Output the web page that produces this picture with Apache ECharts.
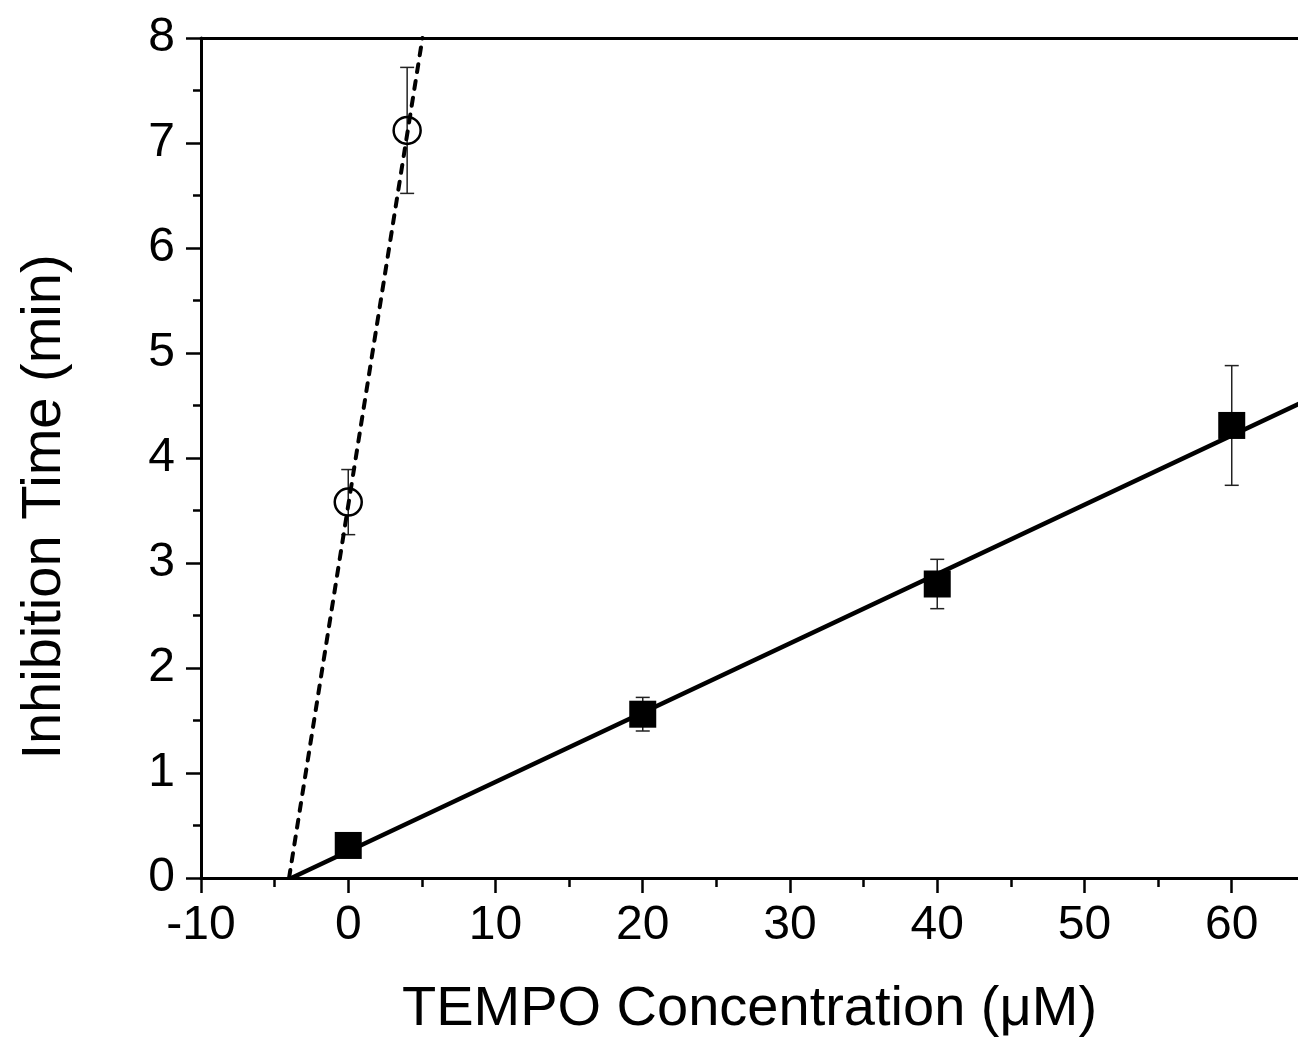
<!DOCTYPE html>
<html>
<head>
<meta charset="utf-8">
<script src="https://cdn.jsdelivr.net/npm/echarts@6/dist/echarts.min.js"></script>
<style>
html,body{margin:0;padding:0;background:#fff;}
#chart{width:1298px;height:1043px;}
</style>
</head>
<body>
<div id="chart"></div>
<script>
// ---- data ----
var xTitle = 'TEMPO Concentration (\u03bcM)';
var yTitle = 'Inhibition Time (min)';

var xMajorTicks = [-10, 0, 10, 20, 30, 40, 50, 60];
var xMinorTicks = [-5, 5, 15, 25, 35, 45, 55];

var squareX = [0, 20, 40, 60];
var squareY = [0.31, 1.56, 2.80, 4.31];
var squareErr = [0.0, 0.16, 0.235, 0.57];

var circleX = [0, 4];
var circleY = [3.58, 7.12];
var circleErr = [0.31, 0.60];

// fitted lines (endpoints in data units)
var solidFitX = [-3.86, 65];
var solidFitY = [0, 4.545];
var dashFitX = [-4.02, 5.04];
var dashFitY = [0, 8];

var X_MIN = -10, X_MAX = 64.5;
var FONT = '"Liberation Sans", Arial, sans-serif';

function pairs(xs, ys){ return xs.map(function(x,i){ return [x, ys[i]]; }); }
function errData(xs, ys, es){ return xs.map(function(x,i){ return [x, ys[i]-es[i], ys[i]+es[i]]; }); }

function errRender(params, api){
  var x = api.value(0);
  var lo = api.coord([x, api.value(1)]);
  var hi = api.coord([x, api.value(2)]);
  var cap = 7;
  var st = {stroke:'#222', lineWidth:1.5, fill:null};
  return {type:'group', children:[
    {type:'line', shape:{x1:hi[0], y1:hi[1], x2:lo[0], y2:lo[1]}, style:st},
    {type:'line', shape:{x1:hi[0]-cap, y1:hi[1], x2:hi[0]+cap, y2:hi[1]}, style:st},
    {type:'line', shape:{x1:lo[0]-cap, y1:lo[1], x2:lo[0]+cap, y2:lo[1]}, style:st}
  ]};
}

var chart = echarts.init(document.getElementById('chart'), null, {renderer:'canvas'});
var option = {
  animation:false,
  backgroundColor:'#fff',
  grid:{left:201, top:38, right:0, bottom:165, show:false},
  xAxis:[{
    type:'value', min:X_MIN, max:X_MAX, position:'bottom',
    axisLine:{show:true, onZero:false, lineStyle:{color:'#000', width:3}},
    axisTick:{show:true, inside:false, length:15, customValues:xMajorTicks, lineStyle:{color:'#000', width:2.5}},
    minorTick:{show:false},
    splitLine:{show:false},
    axisLabel:{color:'#000', fontFamily:FONT, fontSize:48, margin:24, customValues:xMajorTicks},
    name:xTitle, nameLocation:'middle', nameGap:104,
    nameTextStyle:{color:'#000', fontFamily:FONT, fontSize:56}
  },{
    type:'value', min:X_MIN, max:X_MAX, position:'bottom',
    axisLine:{show:false, onZero:false},
    axisTick:{show:true, inside:false, length:9, customValues:xMinorTicks, lineStyle:{color:'#000', width:2.5}},
    axisLabel:{show:false}, splitLine:{show:false}
  },{
    type:'value', min:X_MIN, max:X_MAX, position:'top',
    axisLine:{show:true, onZero:false, lineStyle:{color:'#000', width:3}},
    axisTick:{show:false}, axisLabel:{show:false}, splitLine:{show:false}
  }],
  yAxis:{
    type:'value', min:0, max:8, interval:1,
    axisLine:{show:true, onZero:false, lineStyle:{color:'#000', width:3}},
    axisTick:{show:true, inside:false, length:15, lineStyle:{color:'#000', width:2.5}},
    minorTick:{show:true, splitNumber:2, length:8, lineStyle:{color:'#000', width:2.5}},
    splitLine:{show:false},
    axisLabel:{color:'#000', fontFamily:FONT, fontSize:48, margin:26}
  },
  graphic:[{
    type:'text', x:45, y:507, rotation:Math.PI/2,
    style:{text:yTitle, fill:'#000', font:'56px ' + FONT, align:'center', verticalAlign:'middle'}
  }],
  series:[
    {type:'custom', renderItem:errRender, data:errData(squareX, squareY, squareErr), z:1, clip:false},
    {type:'custom', renderItem:errRender, data:errData(circleX, circleY, circleErr), z:1, clip:false},
    {type:'line', data:pairs(solidFitX, solidFitY), symbol:'none', z:2,
      lineStyle:{color:'#000', width:4.5}},
    {type:'line', data:pairs(dashFitX, dashFitY), symbol:'none', z:2,
      lineStyle:{color:'#000', width:4, type:[8,9], cap:'round'}},
    {type:'scatter', data:pairs(squareX, squareY), symbol:'rect', symbolSize:27, z:3,
      itemStyle:{color:'#000', opacity:1}},
    {type:'scatter', data:pairs(circleX, circleY), symbol:'circle', symbolSize:27, z:3,
      itemStyle:{color:'rgba(0,0,0,0)', borderColor:'#000', borderWidth:2.5, opacity:1}}
  ]
};
chart.setOption(option);
</script>
</body>
</html>
